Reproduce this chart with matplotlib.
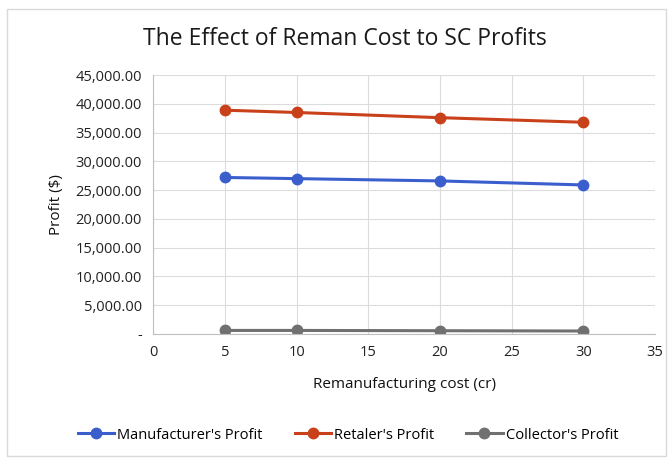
import matplotlib.pyplot as plt
from matplotlib.ticker import FuncFormatter, MultipleLocator
from matplotlib.patches import Rectangle

plt.rcParams['font.family'] = ['Open Sans', 'DejaVu Sans']

reman_cost = [5, 10, 20, 30]
manufacturer_profit = [27200, 27000, 26600, 25900]
retailer_profit = [38900, 38500, 37600, 36800]
collector_profit = [600, 600, 550, 500]


def money(v, pos):
    if v == 0:
        return "-"
    return f"{v:,.2f}"


fig = plt.figure(figsize=(6.69, 4.58), dpi=100)
ax = fig.add_axes([0.229, 0.271, 0.750, 0.565])

ax.plot(reman_cost, manufacturer_profit, color="#3A5FCD", lw=2.2, marker="o",
        ms=7.5, label="Manufacturer's Profit")
ax.plot(reman_cost, retailer_profit, color="#C9411A", lw=2.2, marker="o",
        ms=7.5, label="Retaler's Profit")
ax.plot(reman_cost, collector_profit, color="#707070", lw=2.2, marker="o",
        ms=7.5, label="Collector's Profit")

ax.set_xlim(0, 35)
ax.set_ylim(0, 45000)
ax.xaxis.set_major_locator(MultipleLocator(5))
ax.yaxis.set_major_locator(MultipleLocator(5000))
ax.yaxis.set_major_formatter(FuncFormatter(money))
ax.grid(True, color="#dcdcdc", lw=0.8)
ax.set_axisbelow(True)
for s in ["top", "right"]:
    ax.spines[s].set_visible(False)
for s in ["left", "bottom"]:
    ax.spines[s].set_color("#bfbfbf")
ax.tick_params(length=0, labelsize=10.5, colors="#222222", pad=8)

ax.set_xlabel("Remanufacturing cost (cr)", fontsize=11, color="#111111",
              labelpad=12, fontweight="medium")
ax.set_ylabel("Profit ($)", fontsize=11, color="#111111", labelpad=8,
              fontweight="medium")
fig.suptitle("The Effect of Reman Cost to SC Profits", fontsize=16.5,
             color="#1a1a1a", y=0.94, x=0.515)

fig.legend(loc="lower center", ncol=3, frameon=False, fontsize=10.5,
           bbox_to_anchor=(0.52, 0.005), handlelength=2.5, columnspacing=2.2,
           handletextpad=0.2)

fig.patches.append(Rectangle((0.01, 0.005), 0.985, 0.975, transform=fig.transFigure,
                             fill=False, edgecolor="#d9d9d9", lw=1))

fig.savefig("out.png", dpi=100)
